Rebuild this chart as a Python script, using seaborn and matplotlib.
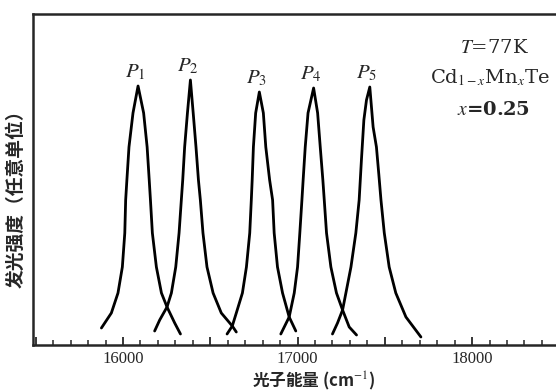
import pandas as pd
import seaborn as sns
from matplotlib import pyplot as plt
from matplotlib.ticker import MultipleLocator, FuncFormatter

# 五个发光峰 (光子能量 cm^-1, 发光强度 任意单位)
p1_energy = [15876, 15933, 15971, 15996, 16010, 16015, 16022, 16034, 16057, 16086,
             16118, 16138, 16150, 16157, 16168, 16191, 16220, 16252, 16296, 16329]
p1_intensity = [17, 32, 52, 78, 112, 145, 165, 198, 232, 259,
                232, 198, 165, 145, 112, 78, 52, 38, 22, 11]

p2_energy = [16181, 16210, 16252, 16277, 16302, 16321, 16334, 16342, 16353, 16369, 16386,
             16402, 16418, 16432, 16443, 16458, 16481, 16516, 16563, 16626, 16649]
p2_intensity = [14, 25, 38, 52, 78, 112, 145, 165, 198, 232, 265,
                232, 198, 165, 145, 112, 78, 52, 32, 19, 13]

p3_energy = [16596, 16626, 16649, 16684, 16707, 16726, 16735, 16740, 16747, 16760, 16781,
             16804, 16818, 16840, 16857, 16866, 16885, 16914, 16952, 16990]
p3_intensity = [11, 19, 32, 52, 78, 112, 145, 165, 198, 232, 253,
                232, 198, 165, 145, 112, 78, 52, 28, 14]

p4_energy = [16904, 16952, 16981, 17000, 17013, 17025, 17032, 17044, 17060, 17092,
             17115, 17130, 17145, 17153, 17166, 17191, 17223, 17258, 17296, 17338]
p4_intensity = [11, 28, 52, 78, 112, 145, 165, 198, 232, 257,
                232, 198, 165, 145, 112, 78, 52, 35, 18, 10]

p5_energy = [17200, 17229, 17258, 17277, 17306, 17334, 17353, 17366, 17380, 17395, 17414,
             17433, 17452, 17466, 17478, 17497, 17525, 17563, 17621, 17707]
p5_intensity = [11, 22, 35, 52, 78, 112, 145, 185, 225, 245, 258,
                218, 198, 170, 145, 112, 78, 52, 28, 8]

peak_names = ["P1", "P2", "P3", "P4", "P5"]
peak_labels = ["$P_1$", "$P_2$", "$P_3$", "$P_4$", "$P_5$"]
info_lines = ["$T$=77K", "Cd$_{1-x}$Mn$_x$Te", "$x$=0.25"]

curves = [(p1_energy, p1_intensity), (p2_energy, p2_intensity),
          (p3_energy, p3_intensity), (p4_energy, p4_intensity),
          (p5_energy, p5_intensity)]
frames = []
for name, (e, i) in zip(peak_names, curves):
    frames.append(pd.DataFrame({"energy": e, "intensity": i, "peak": name}))
df = pd.concat(frames, ignore_index=True)

sns.set_style("ticks")
plt.rcParams['mathtext.fontset'] = 'stix'
plt.rcParams['font.family'] = ['Liberation Serif', 'DejaVu Serif']

fig = plt.figure(figsize=(5.56, 3.92), dpi=100)
ax = fig.add_axes([33/556, 47/392, 523/556, 331/392])

sns.lineplot(data=df, x="energy", y="intensity", units="peak", estimator=None,
             color="black", linewidth=2.0, ax=ax)

ax.set_xlim(15484, 18481)
ax.set_ylim(0, 331)

# 峰标记
for lab, (e, i) in zip(peak_labels, curves):
    k = i.index(max(i))
    ax.annotate(lab, xy=(e[k], i[k]), xytext=(-2, 10), textcoords="offset points",
                ha="center", va="center", fontsize=15)

serif = ["DejaVu Serif"]
ax.text(0.883, 0.897, info_lines[0], transform=ax.transAxes, ha="center", va="center",
        fontsize=14, family=serif)
ax.text(0.874, 0.807, info_lines[1], transform=ax.transAxes, ha="center", va="center",
        fontsize=14, family=serif)
ax.text(0.880, 0.710, info_lines[2], transform=ax.transAxes, ha="center", va="center",
        fontsize=14, fontweight="bold", family=serif)

ax.xaxis.set_major_locator(MultipleLocator(500))
ax.xaxis.set_minor_locator(MultipleLocator(100))
ax.xaxis.set_major_formatter(FuncFormatter(lambda v, p: f"{int(v)}" if v % 1000 == 0 else ""))
ax.tick_params(axis="x", which="major", direction="in", length=6, width=1.3, labelsize=12, pad=4)
ax.tick_params(axis="x", which="minor", direction="in", length=3.5, width=1.1)
ax.set_yticks([])

for s in ["left", "bottom", "top"]:
    ax.spines[s].set_linewidth(1.8)
ax.spines["right"].set_visible(False)

ax.set_xlabel("光子能量 (cm$^{-1}$)", family=["Noto Sans CJK SC", "DejaVu Sans"],
              fontweight="bold", fontsize=12)
ax.xaxis.set_label_coords(0.537, -0.074)
ax.set_ylabel("发光强度（任意单位）", family=["Noto Sans CJK SC", "DejaVu Sans"],
              fontweight="bold", fontsize=13.5)
ax.yaxis.set_label_coords(-0.014, 0.456)

fig.savefig("out.png", dpi=100)
